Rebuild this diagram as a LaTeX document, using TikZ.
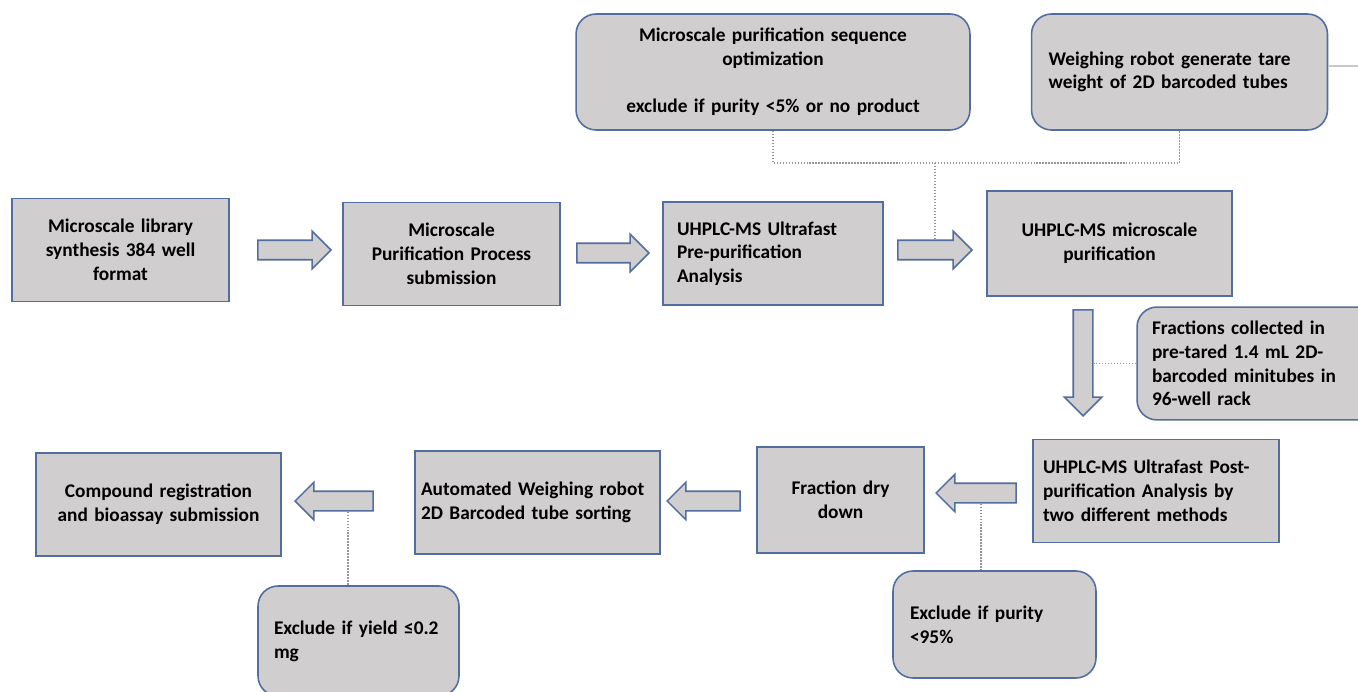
\documentclass[tikz,border=0pt]{standalone}
\usepackage{fontspec}
\setmainfont{Carlito}
\usetikzlibrary{shapes.arrows}

\definecolor{boxfill}{RGB}{208,206,206}
\definecolor{boxline}{RGB}{82,110,160}
\definecolor{dotgray}{RGB}{150,150,150}
\definecolor{rulegray}{RGB}{200,200,200}

\tikzset{
  box/.style={draw=boxline, fill=boxfill, line width=0.9pt, inner sep=0.28cm,
    minimum height=2.06cm, text width=#1, font=\bfseries\fontsize{11}{13.5}\selectfont},
  roundbox/.style={box=#1, rounded corners=0.4cm},
  blockarrow/.style={single arrow, draw=boxline, fill=boxfill, line width=0.9pt,
    inner sep=0.18cm, minimum width=0.72cm, single arrow head extend=0.18cm, minimum height=#1},
  dotline/.style={draw=dotgray, line width=0.8pt, dash pattern=on 0.8pt off 0.9pt},
}

\begin{document}
\begin{tikzpicture}[x=0.02cm, y=-0.02cm]
      \useasboundingbox (0,0) rectangle (1358,692);
      \clip (0,0) rectangle (1358,692);

      % main row
      \node[box=3.78cm, align=center] (lib) at (120.5,250) {Microscale library\\synthesis 384 well\\format};
      \node[box=3.78cm, align=center] (sub) at (451.5,254) {Microscale\\Purification Process\\submission};
      \node[box=3.84cm, align=left] (pre) at (773,253.5) {UHPLC-MS Ultrafast\\Pre-purification\\Analysis};
      \node[box=4.34cm, align=center, minimum height=2.1cm] (pur) at (1109.5,243.5) {UHPLC-MS microscale\\purification};

      % side notes
      \node[roundbox=7.32cm, align=center, minimum height=2.32cm] (opt) at (773,72) {Microscale purification sequence\\optimization\\[13.5pt]exclude if purity <5\% or no product};
      \node[roundbox=5.24cm, align=left, minimum height=2.32cm, inner xsep=0.34cm] (tare) at (1179.5,72) {Weighing robot generate tare\\weight of 2D barcoded tubes};
      \node[roundbox=4.2cm, align=left, minimum height=2.02cm, inner xsep=0.3cm] (frac) at (1257,363.5) {Fractions collected in\\pre-tared 1.4 mL 2D-\\barcoded minitubes in\\96-well rack};

      % return row
      \node[box=4.52cm, align=left, inner xsep=0.2cm] (post) at (1156,491) {UHPLC-MS Ultrafast Post-\\purification Analysis by\\two different methods};
      \node[box=2.78cm, align=center, minimum height=2.12cm] (dry) at (840.5,500) {Fraction dry\\down};
      \node[box=4.66cm, align=left, inner xsep=0.12cm] (sort) at (537.5,502.5) {Automated Weighing robot\\2D Barcoded tube sorting};
      \node[box=4.34cm, align=center] (reg) at (158.5,504.5) {Compound registration\\and bioassay submission};

      \node[roundbox=3.38cm, align=left, minimum height=2.14cm, inner xsep=0.34cm] (ex95) at (994.5,624.5) {Exclude if purity\\<95\%};
      \node[roundbox=3.38cm, align=left, minimum height=2.2cm, inner xsep=0.32cm] (ex02) at (358.5,641) {Exclude if yield ≤0.2\\mg};

      % block arrows
      \node[blockarrow=1.46cm] (a1) at (289.5,250) {};
      \node[blockarrow=1.44cm] (a2) at (608,253) {};
      \node[blockarrow=1.48cm] (a3) at (930,250) {};
      \node[blockarrow=2.12cm, shape border rotate=270] (a4) at (1083,358) {};
      \node[blockarrow=1.6cm, shape border rotate=180] (a5) at (981,493) {};
      \node[blockarrow=1.46cm, shape border rotate=180] (a6) at (708.5,501) {};
      \node[blockarrow=1.56cm, shape border rotate=180] (a7) at (339,501) {};

      % dotted links
      \coordinate (jn) at (935,163);
      \coordinate (rim) at (1358,66);
      \draw[dotline] (opt.south) |- (jn) -| (tare.south);
      \draw[dotline] (jn) -- (jn |- a3.north);
      \draw[dotline] (frac.west) -- (frac.west -| a4.east);
      \draw[dotline] (a5.south) -- (a5.south |- ex95.north);
      \draw[dotline] ([xshift=0.18cm]a7.south) -- ([xshift=0.18cm]a7.south |- ex02.north);
      \draw[rulegray, line width=0.9pt] ([yshift=0.12cm]tare.east) -- ([yshift=0.12cm]tare.east -| rim);
\end{tikzpicture}
\end{document}
